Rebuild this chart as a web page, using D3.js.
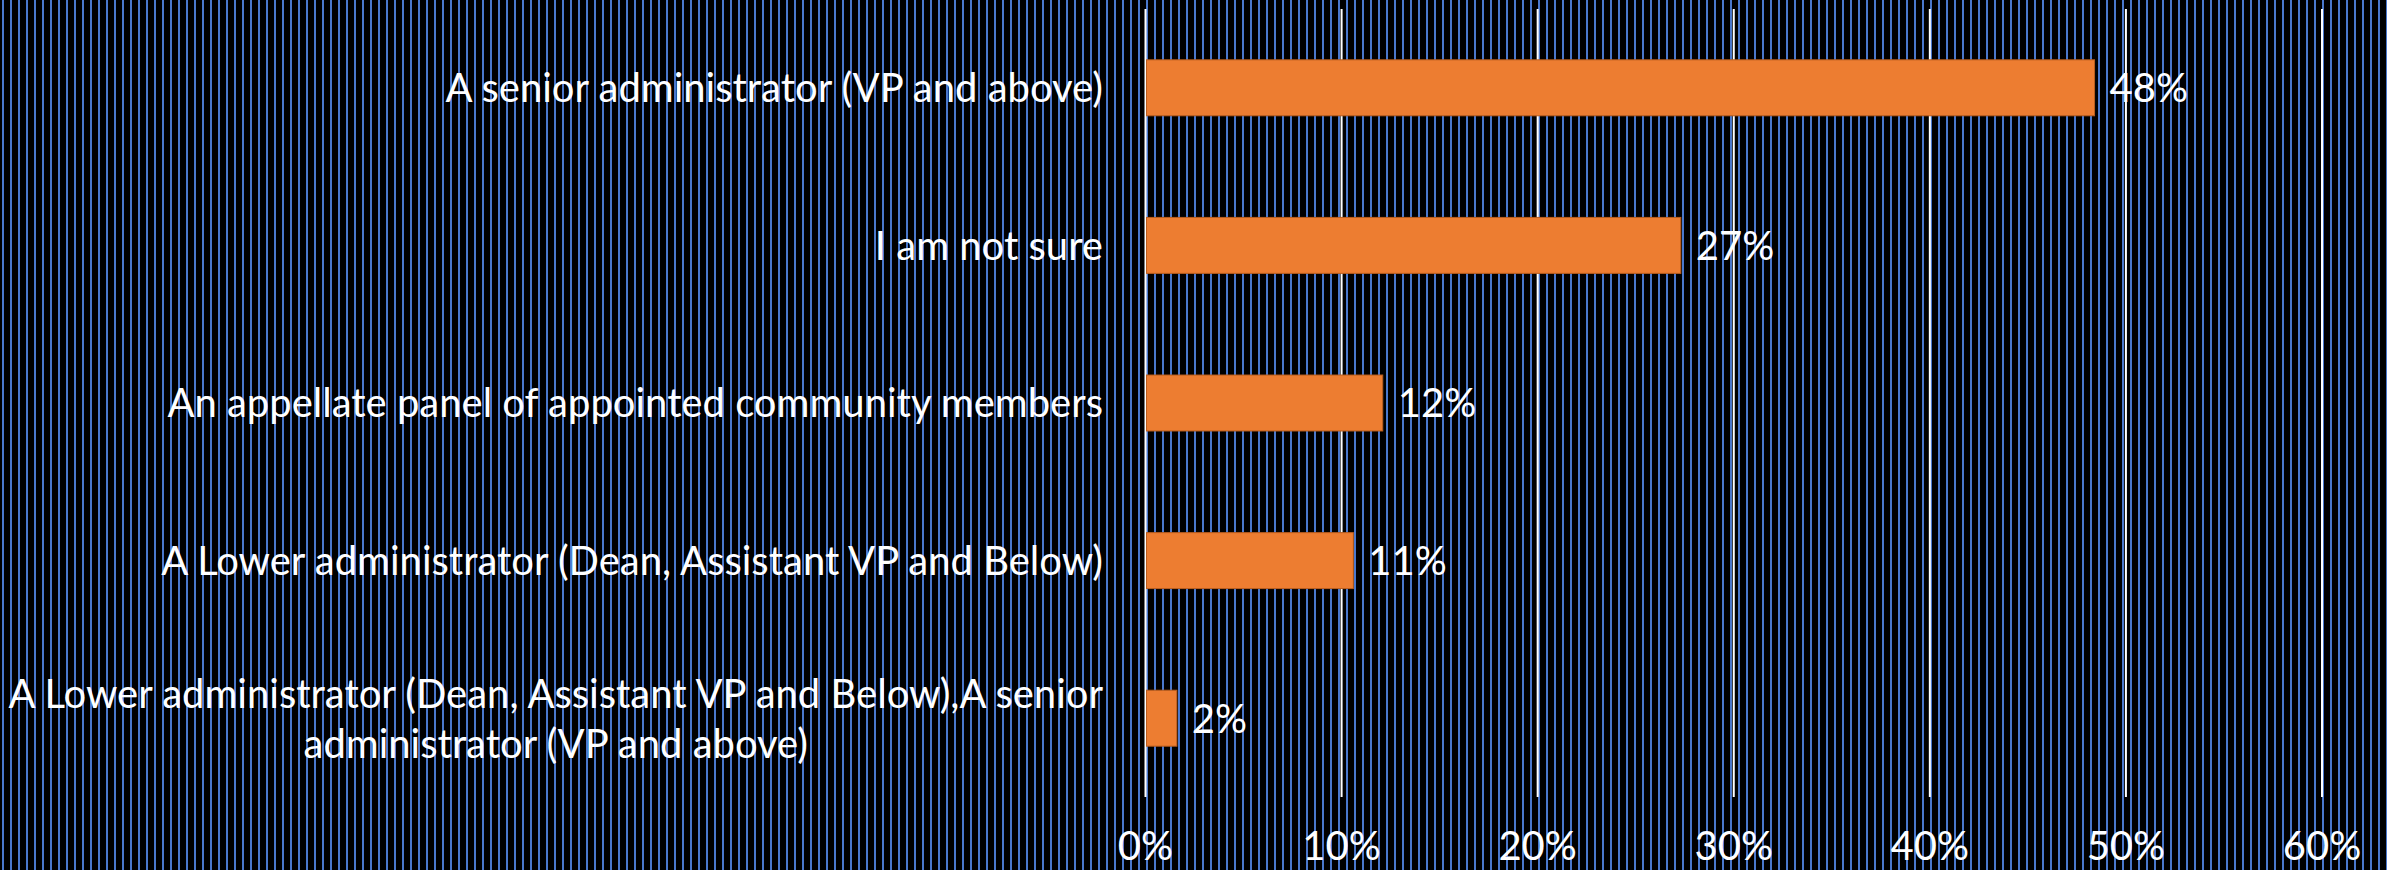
<!DOCTYPE html>
<html>
<head>
<meta charset="utf-8">
<script src="https://cdn.jsdelivr.net/npm/d3@7"></script>
<style>
  html, body { margin: 0; padding: 0; background: #000; }
  svg { display: block; }
</style>
</head>
<body>
<div id="chart"></div>
<script>
// chart data
const categories = [
  "A senior administrator (VP and above)",
  "I am not sure",
  "An appellate panel of appointed community members",
  "A Lower administrator (Dean, Assistant VP and Below)",
  "A Lower administrator (Dean, Assistant VP and Below),A senior administrator (VP and above)"
];
const shares = [0.484, 0.273, 0.121, 0.106, 0.016];
const tickValues = [0, 0.1, 0.2, 0.3, 0.4, 0.5, 0.6];

const width = 2387, height = 870;
const fontFamily = "Lato, 'Open Sans', sans-serif";
const fontSize = 40;
const pct = d3.format(".0%");

const svg = d3.select("#chart").append("svg")
  .attr("width", width)
  .attr("height", height);

// striped background
const defs = svg.append("defs");
const pat = defs.append("pattern")
  .attr("id", "stripes")
  .attr("patternUnits", "userSpaceOnUse")
  .attr("width", 8).attr("height", 8)
  .attr("x", 2);
pat.append("rect").attr("width", 8).attr("height", 8).attr("fill", "#000");
pat.append("rect").attr("x", 0).attr("width", 2).attr("height", 8).attr("fill", "#4a78cc");

svg.append("rect")
  .attr("width", width).attr("height", height)
  .attr("fill", "url(#stripes)");

const x = d3.scaleLinear().domain([0, 0.6]).range([1145.5, 2322]);
const y = d3.scaleBand().domain(categories).range([9, 797])
  .paddingInner(0.645).paddingOuter(0.3225);

// gridlines
svg.append("g")
  .selectAll("line")
  .data(tickValues)
  .join("line")
  .attr("x1", d => x(d)).attr("x2", d => x(d))
  .attr("y1", 9).attr("y2", 797)
  .attr("stroke", "#fff")
  .attr("stroke-width", 2);

// tick labels
svg.append("g")
  .selectAll("text")
  .data(tickValues)
  .join("text")
  .attr("x", d => x(d))
  .attr("y", 860)
  .attr("text-anchor", "middle")
  .attr("fill", "#fff")
  .style("font-family", fontFamily)
  .style("font-size", fontSize + "px")
  .text(d => pct(d));

// bars
svg.append("g")
  .selectAll("rect")
  .data(shares)
  .join("rect")
  .attr("x", x(0) + 1)
  .attr("y", (d, i) => y(categories[i]))
  .attr("width", d => x(d) - x(0) - 1)
  .attr("height", y.bandwidth())
  .attr("fill", "#ed7d31")
  .attr("stroke", "#b85d1e")
  .attr("stroke-width", 1);

// value labels
svg.append("g")
  .selectAll("text")
  .data(shares)
  .join("text")
  .attr("x", d => x(d) + 15)
  .attr("y", (d, i) => y(categories[i]) + y.bandwidth() / 2)
  .attr("dy", "0.36em")
  .attr("fill", "#fff")
  .style("font-family", fontFamily)
  .style("font-size", fontSize + "px")
  .text(d => pct(d));

// category labels, wrapped and centered per line like the original
const labelRight = 1103;
const maxLabelWidth = 1120;
const lineHeight = 50;
const catG = svg.append("g")
  .style("font-family", fontFamily)
  .style("font-size", fontSize + "px")
  .attr("fill", "#fff");

categories.forEach(cat => {
  const words = cat.split(" ");
  const probe = catG.append("text");
  const lines = [];
  let line = [];
  words.forEach(w => {
    line.push(w);
    probe.text(line.join(" "));
    if (probe.node().getComputedTextLength() > maxLabelWidth && line.length > 1) {
      line.pop();
      lines.push(line.join(" "));
      line = [w];
    }
  });
  lines.push(line.join(" "));
  probe.remove();

  const cy = y(cat) + y.bandwidth() / 2;
  const t = catG.append("text");
  if (lines.length === 1) {
    t.attr("x", labelRight).attr("y", cy).attr("dy", "0.36em")
      .attr("text-anchor", "end").text(lines[0]);
  } else {
    // measure widest line so the block stays right aligned
    const tmp = catG.append("text");
    const widest = d3.max(lines, l => { tmp.text(l); return tmp.node().getComputedTextLength(); });
    tmp.remove();
    const cx = labelRight - widest / 2;
    t.attr("text-anchor", "middle");
    lines.forEach((l, i) => {
      t.append("tspan")
        .attr("x", cx)
        .attr("y", cy + (i - (lines.length - 1) / 2) * lineHeight)
        .attr("dy", "0.36em")
        .text(l);
    });
  }
});
</script>
</body>
</html>
